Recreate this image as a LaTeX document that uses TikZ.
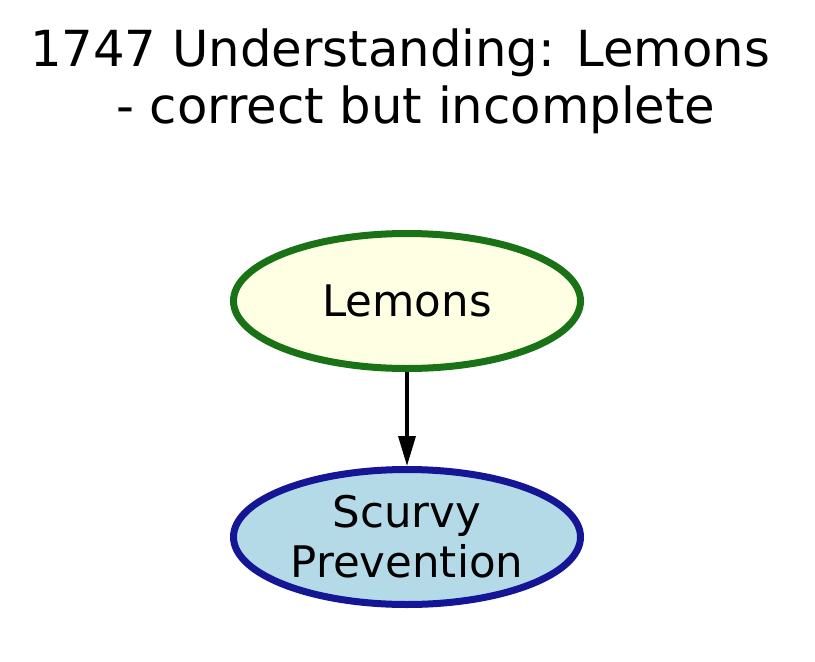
\documentclass[tikz,border=0pt]{standalone}
\usepackage{fontspec}
\setmainfont{DejaVu Sans}
\usetikzlibrary{shapes.geometric,arrows.meta}

\definecolor{lemonfill}{RGB}{255,255,228}
\definecolor{lemonline}{RGB}{26,114,22}
\definecolor{scurvyfill}{RGB}{180,218,232}
\definecolor{scurvyline}{RGB}{20,22,150}

\begin{document}
\begin{tikzpicture}
  [x=1pt,y=-1pt,
   % Styles
   title text/.style={align=center,font=\fontsize{49.7}{57}\selectfont},
   idea/.style={ellipse,line width=7pt,minimum width=347pt,minimum height=135pt,
     inner sep=0pt,align=center,font=\fontsize{43.5}{50}\selectfont},
   link/.style={line width=3.5pt,-{Triangle[length=30pt,width=17pt]}}]

  % Page
  \useasboundingbox (0,0) rectangle (815,662);

  % The graphic
  \node[title text] (title) at (400,81)
    {1747 Understanding: Lemons\\~~- correct but incomplete};

  \node[idea,draw=lemonline,fill=lemonfill] (lemons) at (407,301) {Lemons};
  \node[idea,draw=scurvyline,fill=scurvyfill] (scurvy) at (407,537)
    {Scurvy\\Prevention};

  \draw[link] (lemons) -- (scurvy);
\end{tikzpicture}
\end{document}
